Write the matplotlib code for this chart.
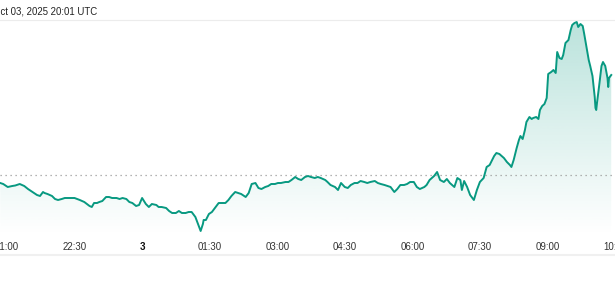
import numpy as np
import matplotlib
matplotlib.use("Agg")
import matplotlib.pyplot as plt
from matplotlib.path import Path
from matplotlib.patches import PathPatch

# minutes relative to 00:00 Oct 3 (UTC)
minutes = [-189, -185, -183, -179, -173, -169, -167, -163, -157, -152, -146, -140, -136, -132, -130,
           -126, -120, -116, -112, -107, -103, -97, -90, -83, -77, -70, -67, -64, -60, -57, -53, -48,
           -44, -40, -34, -30, -26, -21, -17, -13, -8, -4, 0, 5, 9, 13, 19, 22, 26, 32, 36, 40, 45,
           49, 53, 58, 62, 66, 71, 75, 78, 81, 82, 85, 89, 93, 98, 102, 106, 111, 115, 119, 124,
           128, 132, 138, 142, 146, 151, 155, 159, 164, 168, 172, 177, 181, 185, 191, 195, 199,
           204, 208, 212, 217, 221, 225, 230, 234, 238, 244, 247, 251, 257, 261, 265, 270, 274,
           278, 283, 287, 291, 296, 300, 304, 310, 314, 318, 323, 327, 331, 336, 340, 344, 349,
           353, 357, 362, 366, 370, 376, 379, 383, 389, 393, 397, 402, 406, 410, 416, 420, 424,
           426, 429, 433, 437, 442, 446, 450, 455, 459, 463, 469, 472, 476, 482, 486, 490, 492,
           495, 499, 502, 504, 507, 510, 512, 516, 519, 521, 525, 528, 530, 533, 536, 539, 541,
           545, 548, 551, 553, 556, 559, 561, 564, 568, 571, 573, 576, 579, 581, 584, 587, 589,
           592, 595, 597, 600, 603, 604, 605, 606, 609, 612, 614, 617, 620, 621, 622, 625]

prices = [3.92, 3.91, 3.90, 3.88, 3.89, 3.895, 3.90, 3.91, 3.89, 3.86, 3.83, 3.80, 3.79, 3.83, 3.82,
          3.81, 3.79, 3.76, 3.75, 3.76, 3.77, 3.77, 3.77, 3.75, 3.73, 3.69, 3.68, 3.72, 3.72, 3.73,
          3.74, 3.78, 3.78, 3.77, 3.77, 3.76, 3.77, 3.76, 3.73, 3.72, 3.69, 3.70, 3.77, 3.71, 3.68,
          3.71, 3.70, 3.68, 3.68, 3.67, 3.64, 3.62, 3.62, 3.64, 3.62, 3.62, 3.63, 3.63, 3.58, 3.50,
          3.44, 3.51, 3.55, 3.55, 3.61, 3.63, 3.68, 3.72, 3.72, 3.72, 3.75, 3.79, 3.83, 3.82, 3.81,
          3.78, 3.82, 3.91, 3.92, 3.87, 3.86, 3.88, 3.89, 3.91, 3.91, 3.92, 3.92, 3.93, 3.93, 3.95,
          3.98, 3.96, 3.95, 3.98, 3.99, 3.98, 3.97, 3.98, 3.97, 3.95, 3.93, 3.90, 3.88, 3.85, 3.92,
          3.88, 3.87, 3.90, 3.92, 3.92, 3.94, 3.93, 3.92, 3.93, 3.94, 3.92, 3.91, 3.90, 3.89, 3.88,
          3.83, 3.86, 3.90, 3.90, 3.91, 3.93, 3.93, 3.88, 3.86, 3.88, 3.90, 3.95, 3.99, 4.03, 3.95,
          3.93, 3.96, 3.92, 3.88, 3.97, 3.95, 3.85, 3.94, 3.88, 3.80, 3.75, 3.85, 3.93, 3.97, 4.08,
          4.10, 4.19, 4.22, 4.21, 4.17, 4.13, 4.10, 4.08, 4.15, 4.27, 4.35, 4.39, 4.36, 4.45, 4.53,
          4.58, 4.56, 4.57, 4.58, 4.56, 4.65, 4.69, 4.71, 4.77, 5.01, 5.03, 5.05, 5.02, 5.23, 5.17,
          5.16, 5.20, 5.32, 5.35, 5.45, 5.50, 5.52, 5.53, 5.48, 5.51, 5.49, 5.41, 5.28, 5.15, 5.09,
          4.99, 4.78, 4.67, 4.65, 4.72, 4.90, 5.09, 5.13, 5.09, 4.97, 4.88, 4.97, 5.00]

prev_close = 4.00
tick_minutes = [-180, -90, 0, 90, 180, 270, 360, 450, 540, 630]
tick_labels = ["21:00", "22:30", "3", "01:30", "03:00", "04:30", "06:00", "07:30", "09:00", "10:30"]
title = "Oct 03, 2025 20:01 UTC"

W, H = 615, 299
plt.rcParams['font.family'] = ['Liberation Sans', 'DejaVu Sans']
fig = plt.figure(figsize=(W / 100, H / 100), dpi=100)
fig.patch.set_facecolor("white")

top_px, bot_px = 19, 235
ax = fig.add_axes([0, 1 - bot_px / H, 1, (bot_px - top_px) / H])
ax.set_xlim(-189.3, 624.8)
ax.set_ylim(3.40, 5.56)
for s in ax.spines.values():
    s.set_visible(False)
ax.set_yticks([])

green = "#089981"
x = np.array(minutes, float)
y = np.array(prices, float)

# gradient fill under line
y0, y1 = ax.get_ylim()
grad = np.linspace(0, 1, 256).reshape(-1, 1)
rgba = np.zeros((256, 1, 4))
rgba[..., 0] = 8 / 255
rgba[..., 1] = 153 / 255
rgba[..., 2] = 129 / 255
rgba[..., 3] = 0.28 * grad
im = ax.imshow(rgba, extent=[x.min(), x.max(), y0, y1], origin="lower",
               aspect="auto", zorder=1)
verts = np.vstack([[x[0], y0], np.column_stack([x, y]), [x[-1], y0], [x[0], y0]])
clip = PathPatch(Path(verts), transform=ax.transData, facecolor="none", edgecolor="none")
ax.add_patch(clip)
im.set_clip_path(clip)

ax.axhline(prev_close, color="#9a9a9a", lw=0.9, ls=(0, (1, 3)), zorder=2)
ax.plot(x, y, color=green, lw=1.4, zorder=3, solid_joinstyle="round")

ax.set_xticks(tick_minutes)
ax.set_xticklabels(tick_labels)
ax.tick_params(axis="x", length=0, pad=5, labelsize=7, labelcolor="#333333")
for lbl in ax.get_xticklabels():
    if lbl.get_text() == "3":
        lbl.set_fontweight("bold")
        lbl.set_color("#111111")

# header text and separator lines
fig.text(-7 / W, 1 - 11.5 / H, title, ha="left", va="center", fontsize=6.9, color="#222222")
fig.add_artist(plt.Line2D([0, 1], [1 - 19.5 / H, 1 - 19.5 / H], color="#ececec", lw=0.8))
fig.add_artist(plt.Line2D([0, 1], [1 - 255 / H, 1 - 255 / H], color="#f0f0f0", lw=1.5))

fig.savefig("out.png", dpi=100, facecolor="white")
